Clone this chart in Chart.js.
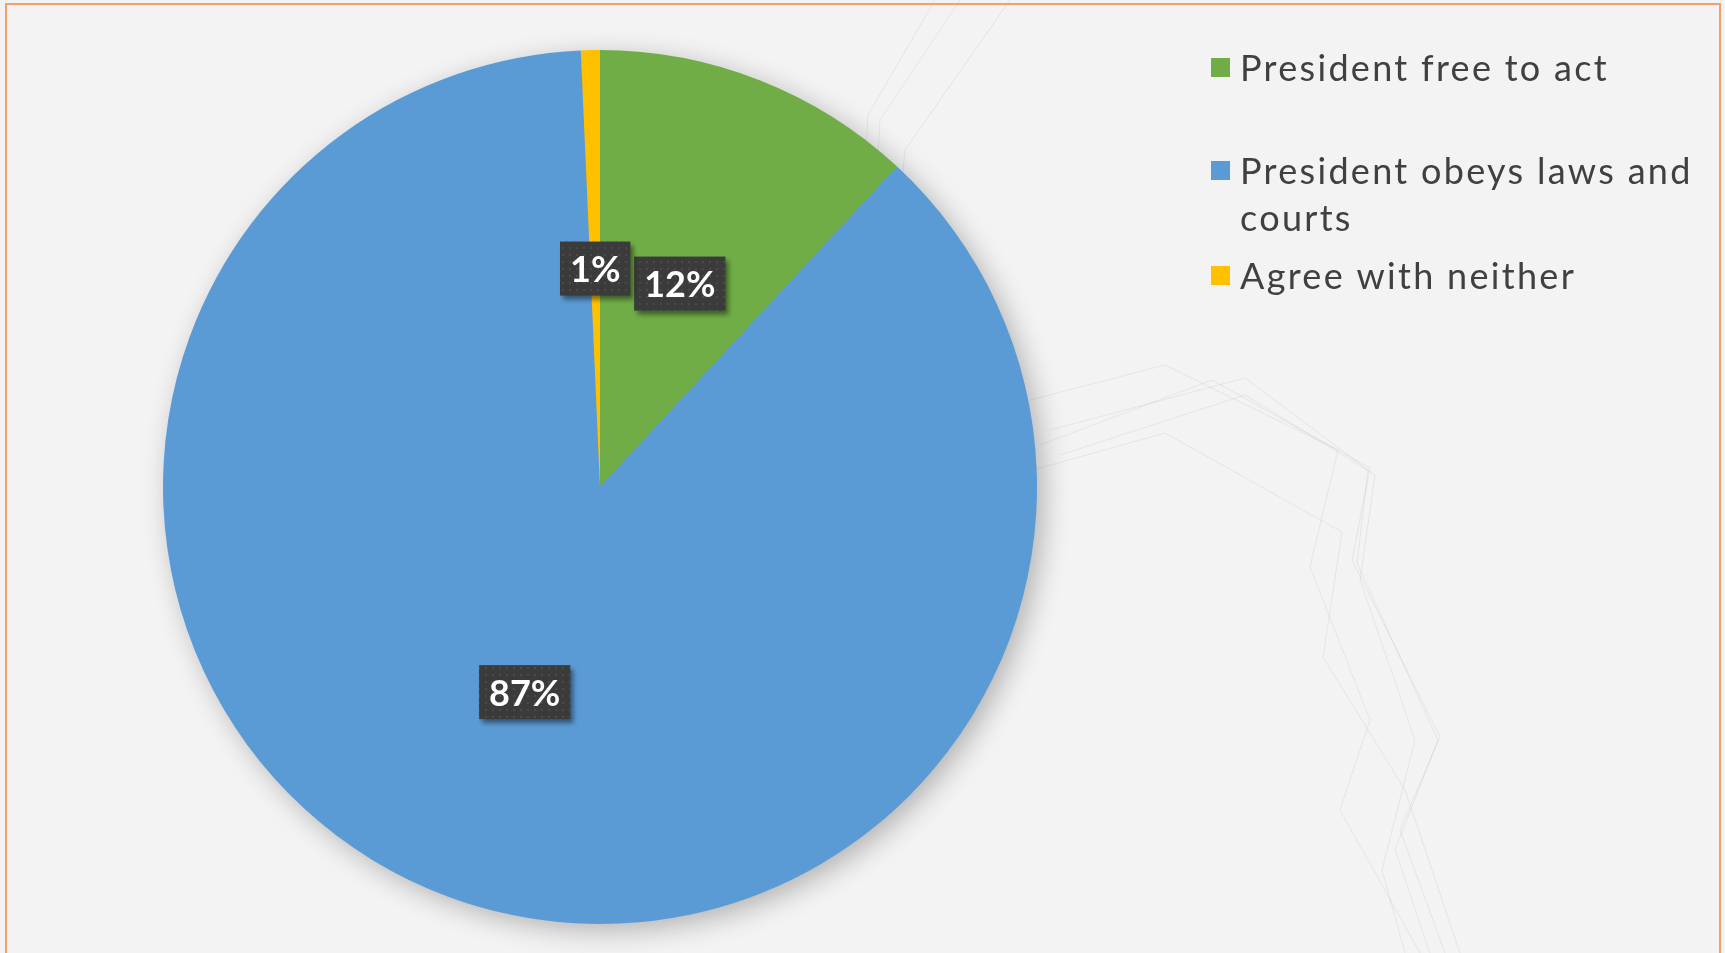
<!DOCTYPE html>
<html>
<head>
<meta charset="utf-8">
<script src="https://cdn.jsdelivr.net/npm/chart.js@4"></script>
<style>
  html, body { margin: 0; padding: 0; background: #f3f3f3; overflow: hidden; }
  #wrap { position: relative; width: 1725px; height: 953px; }
  #deco { position: absolute; left: 0; top: 0; }
  #frame { position: absolute; left: 5px; top: 3px; width: 1716px; height: 970px;
           border: 2px solid #f4a06a; box-sizing: border-box; }
  #chartBox { position: absolute; left: 0; top: 0; width: 1725px; height: 953px; }
</style>
</head>
<body>
<div id="wrap">
  <!-- faint slide decoration lines -->
  <svg id="deco" width="1725" height="953" fill="none" stroke="#9a9a9a" stroke-opacity="0.16" stroke-width="1">
    <polyline points="935,0 868,115 858,260 905,335"/>
    <polyline points="960,0 880,120 872,250 915,330"/>
    <polyline points="1010,0 905,150 890,300"/>
    <polyline points="1033,470 1165,433 1342,532 1323,657 1405,790 1460,953"/>
    <polyline points="1040,445 1212,380 1370,468 1352,560 1440,737 1400,830 1445,953"/>
    <polyline points="1050,430 1245,378 1368,470 1357,563 1438,740 1395,850 1430,953"/>
    <polyline points="1030,400 1165,365 1338,450 1310,567 1370,720 1340,810 1420,953"/>
    <polyline points="1060,455 1245,395 1375,475 1360,580 1415,740 1382,870 1405,953"/>
  </svg>
  <div id="chartBox"><canvas id="pieChart"></canvas></div>
  <div id="frame"></div>
</div>
<script>
// 資料
const categories = ['President free to act', 'President obeys laws and courts', 'Agree with neither'];
const shares = [11.9, 87.4, 0.7];
const shareLabels = ['12%', '87%', '1%'];
const sliceColors = ['#70AD47', '#5B9BD5', '#FFC000'];

// 版面
const legendX = 1211;
const legendRowY = [67, 170, 275];
const legendLineH = 47;
const legendWrap = 480;
const textFont = 'Lato, "Noto Sans", sans-serif';

// 小點圖樣（標籤底色）
const dotCanvas = document.createElement('canvas');
dotCanvas.width = 7; dotCanvas.height = 7;
const dctx = dotCanvas.getContext('2d');
dctx.fillStyle = '#3b3b3b';
dctx.fillRect(0, 0, 7, 7);
dctx.fillStyle = '#4a4a4a';
dctx.fillRect(2, 2, 2, 2);

// 圓餅陰影
const pieShadow = {
    id: 'pieShadow',
    beforeDatasetsDraw(chart) {
        const arc = chart.getDatasetMeta(0).data[0];
        if (!arc) return;
        const ctx = chart.ctx;
        ctx.save();
        ctx.shadowColor = 'rgba(0,0,0,0.28)';
        ctx.shadowBlur = 28;
        ctx.shadowOffsetX = 7;
        ctx.shadowOffsetY = 7;
        ctx.fillStyle = sliceColors[1];
        ctx.beginPath();
        ctx.arc(arc.x, arc.y, arc.outerRadius - 1, 0, Math.PI * 2);
        ctx.fill();
        ctx.restore();
    }
};

// 數值標籤
const valueBoxes = {
    id: 'valueBoxes',
    afterDatasetsDraw(chart) {
        const ctx = chart.ctx;
        const pattern = ctx.createPattern(dotCanvas, 'repeat');
        ctx.save();
        ctx.font = 'bold 36px ' + textFont;
        ctx.textAlign = 'center';
        ctx.textBaseline = 'middle';
        chart.getDatasetMeta(0).data.forEach((arc, i) => {
            const p = arc.tooltipPosition();
            const text = shareLabels[i];
            const w = ctx.measureText(text).width + 20;
            const h = 54;
            ctx.save();
            ctx.shadowColor = 'rgba(0,0,0,0.45)';
            ctx.shadowBlur = 5;
            ctx.shadowOffsetX = 3;
            ctx.shadowOffsetY = 4;
            ctx.fillStyle = pattern;
            ctx.fillRect(p.x - w / 2, p.y - h / 2, w, h);
            ctx.restore();
            ctx.fillStyle = '#ffffff';
            ctx.fillText(text, p.x, p.y + 2);
        });
        ctx.restore();
    }
};

// 圖例
const sideLegend = {
    id: 'sideLegend',
    afterDraw(chart) {
        const ctx = chart.ctx;
        ctx.save();
        ctx.font = '36px ' + textFont;
        ctx.letterSpacing = '2.3px';
        ctx.textBaseline = 'middle';
        categories.forEach((label, i) => {
            const y = legendRowY[i];
            ctx.fillStyle = sliceColors[i];
            ctx.fillRect(legendX, y - 9, 19, 19);
            // 換行
            const words = label.split(' ');
            const lines = [];
            let line = '';
            words.forEach(word => {
                const test = line ? line + ' ' + word : word;
                if (ctx.measureText(test).width > legendWrap && line) {
                    lines.push(line);
                    line = word;
                } else {
                    line = test;
                }
            });
            lines.push(line);
            ctx.fillStyle = '#404040';
            lines.forEach((l, j) => ctx.fillText(l, legendX + 29, y + 2 + j * legendLineH));
        });
        ctx.restore();
    }
};

new Chart(document.getElementById('pieChart'), {
    type: 'pie',
    data: {
        labels: categories,
        datasets: [{
            data: shares,
            backgroundColor: sliceColors,
            borderWidth: 0
        }]
    },
    options: {
        responsive: true,
        maintainAspectRatio: false,
        animation: false,
        layout: {
            padding: { left: 163, right: 688, top: 50, bottom: 29 }
        },
        plugins: {
            legend: { display: false },
            tooltip: { enabled: false }
        }
    },
    plugins: [pieShadow, valueBoxes, sideLegend]
});
</script>
</body>
</html>
